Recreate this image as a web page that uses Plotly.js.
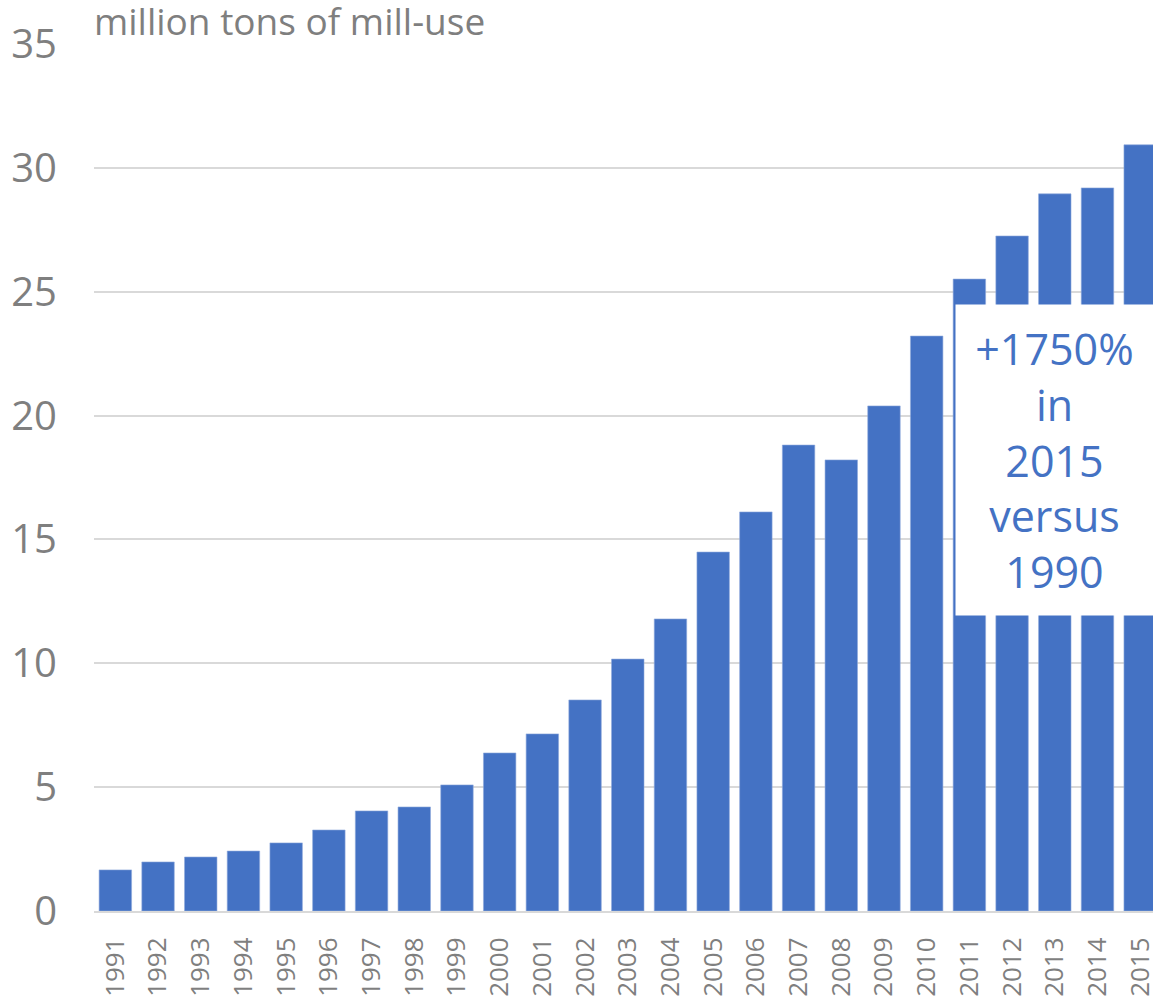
<!DOCTYPE html>
<html>
<head>
<meta charset="utf-8">
<script src="https://cdn.plot.ly/plotly-3.0.1.min.js"></script>
<style>html,body{margin:0;padding:0;background:#fff;}#chart{width:1153px;height:1001px;}</style>
</head>
<body>
<div id="chart"></div>
<script>
const years = ["1991","1992","1993","1994","1995","1996","1997","1998","1999","2000","2001","2002","2003","2004","2005","2006","2007","2008","2009","2010","2011","2012","2013","2014","2015"];
const millUse = [1.66,1.98,2.18,2.42,2.75,3.27,4.04,4.2,5.09,6.38,7.15,8.52,10.17,11.79,14.49,16.11,18.81,18.21,20.39,23.21,25.51,27.25,28.95,29.19,30.93];
const yTicks = [0,5,10,15,20,25,30,35];
const titleText = "million tons of mill-use";
const noteText = "+1750%<br>in<br>2015<br>versus<br>1990";
const noteYear = "2013";
const noteY = 18.2;

const grey = "#7f7f7f";
const blue = "#4472C4";

Plotly.newPlot("chart", [{
  type: "bar",
  x: years,
  y: millUse,
  marker: {color: blue, line: {color: "#8eaadb", width: 0.6}},
  hoverinfo: "x+y"
}], {
  width: 1153, height: 1001,
  margin: {l: 94, r: 0, t: 44, b: 90, pad: 0},
  paper_bgcolor: "#fff", plot_bgcolor: "#fff",
  font: {family: "Open Sans, sans-serif", color: grey},
  showlegend: false,
  bargap: 0.24,
  title: {text: titleText, x: 0, xref: "paper", xanchor: "left", y: 0.978, yref: "container", yanchor: "middle",
          font: {size: 37, color: grey, family: "Open Sans, sans-serif"}},
  xaxis: {
    type: "category",
    range: [-0.5, 24.3],
    tickangle: -90,
    tickfont: {size: 26, color: grey},
    ticks: "",
    ticklabelstandoff: 14,
    showgrid: false,
    showline: true, linecolor: "#d9d9d9", linewidth: 2,
    fixedrange: true
  },
  yaxis: {
    range: [0, 35],
    tickvals: yTicks,
    ticktext: yTicks.map(String),
    tickfont: {size: 40, color: grey},
    ticks: "",
    ticklabelstandoff: 36,
    showgrid: true, gridcolor: "#d9d9d9", gridwidth: 1.5,
    zeroline: false,
    showline: false,
    fixedrange: true
  },
  annotations: [{
    x: years.indexOf(noteYear), y: noteY, xref: "x", yref: "y",
    text: noteText,
    showarrow: false,
    xshift: 0,
    width: 197, height: 310,
    bgcolor: "#ffffff",
    borderpad: 0,
    align: "center", valign: "middle",
    font: {size: 43, color: blue, family: "Open Sans, sans-serif"}
  }]
}, {displayModeBar: false});
</script>
</body>
</html>
